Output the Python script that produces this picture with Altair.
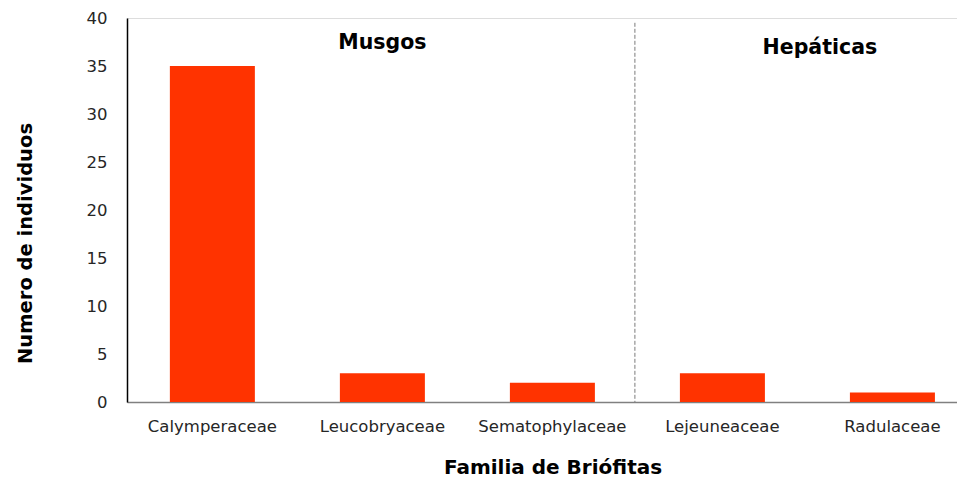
import altair as alt
import pandas as pd

familias = ["Calymperaceae", "Leucobryaceae", "Sematophylaceae", "Lejeuneaceae", "Radulaceae"]
individuos = [35, 3, 2, 3, 1]
grupos = ["Musgos", "Hepáticas"]

df = pd.DataFrame({"familia": familias, "n": individuos})
FONT = "DejaVu Sans"

xscale = alt.Scale(type="band", domain=familias, paddingInner=0.5, paddingOuter=0.191,
                   align=0.66, round=False)
yscale = alt.Scale(domain=[0, 40])

bars = alt.Chart(df).mark_bar(color="#FF3300").encode(
    x=alt.X("familia:N", sort=familias, scale=xscale,
            axis=alt.Axis(title="Familia de Briófitas", labelAngle=0, ticks=False,
                          labelFontSize=16.5, labelColor="#262626", labelFont=FONT,
                          labelPadding=16, domainColor="#808080", domainWidth=1.5,
                          titleFont=FONT, titleFontSize=20, titleFontWeight="bold",
                          titleColor="#000000", titleX=425.5, titleY=55)),
    y=alt.Y("n:Q", scale=yscale,
            axis=alt.Axis(title="Numero de individuos", values=list(range(0, 41, 5)),
                          grid=False, ticks=False, labelPadding=20,
                          labelFontSize=16.5, labelColor="#262626", labelFont=FONT,
                          domainColor="#000000", domainWidth=1.5,
                          titleFont=FONT, titleFontSize=19.5, titleFontWeight="bold",
                          titleColor="#000000", titleX=-92, titleY=225, titleAngle=270)),
)

sep = alt.Chart(pd.DataFrame({"familia": ["Lejeuneaceae"]})).mark_rule(
    color="#7a7a7a", strokeDash=[4, 2], strokeWidth=1, xOffset=-45
).encode(
    x=alt.X("familia:N", sort=familias, scale=xscale, bandPosition=0),
    y=alt.datum(39.5, scale=yscale),
    y2=alt.datum(0),
)

lab_df = pd.DataFrame({"familia": ["Leucobryaceae", "Lejeuneaceae"], "grupo": grupos,
                       "yv": [37.4, 36.9]})
labels = alt.Chart(lab_df).mark_text(
    font=FONT, fontSize=20.5, fontWeight="bold", color="#000000", baseline="middle"
).encode(
    x=alt.X("familia:N", sort=familias, scale=xscale),
    y=alt.Y("yv:Q", scale=yscale),
    text="grupo:N",
)
lab1 = labels.transform_filter(alt.datum.grupo == "Musgos")
lab2 = labels.transform_filter(alt.datum.grupo == "Hepáticas").mark_text(
    font=FONT, fontSize=20.5, fontWeight="bold", color="#000000", baseline="middle", dx=97.5)

chart = alt.layer(bars, sep, lab1, lab2).properties(
    width=830, height=384,
    autosize=alt.AutoSizeParams(type="none"),
    padding={"left": 119, "top": 10, "right": 0, "bottom": 77},
).configure_view(stroke=None).configure(background="white")

chart.save("out.html", embed_options={"renderer": "svg", "actions": False})
